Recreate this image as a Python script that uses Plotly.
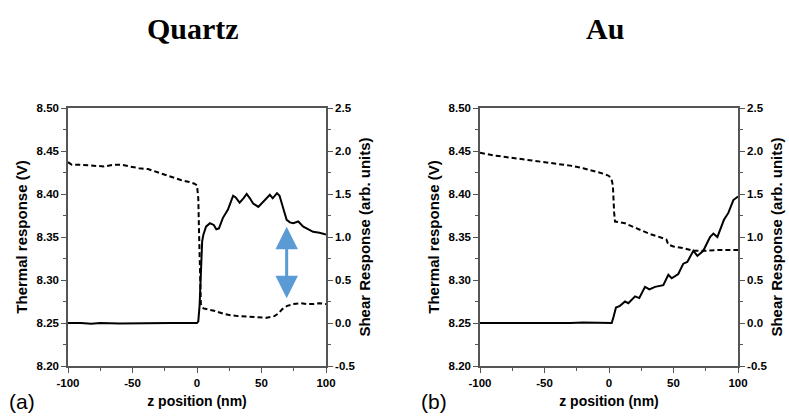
import plotly.graph_objects as go

# ---- Quartz: thermal response (V, left axis) and shear response (right axis)
qz_thermal_z = [-100, -97, -90, -80, -72, -65, -58, -52, -45, -38, -32, -25, -18, -12,
                -6, -2, 0, 1, 1.5, 2, 2.5, 3, 5, 8, 14, 20, 26, 32, 40, 48, 54, 60,
                63, 66, 70, 75, 80, 85, 90, 95, 100]
qz_thermal_v = [8.437, 8.434, 8.434, 8.433, 8.432, 8.434, 8.434, 8.432, 8.430, 8.429,
                8.426, 8.423, 8.419, 8.416, 8.414, 8.412, 8.410, 8.395, 8.36, 8.32,
                8.29, 8.272, 8.267, 8.266, 8.264, 8.261, 8.259, 8.258, 8.257, 8.256,
                8.256, 8.258, 8.261, 8.266, 8.270, 8.272, 8.273, 8.272, 8.272, 8.273,
                8.272]

qz_shear_z = [-100, -90, -82, -75, -60, -40, -20, 0, 1, 2, 3, 4, 5, 7, 10, 13, 15, 17,
              20, 22, 24, 26, 28, 30, 33, 36, 38.5, 41, 43.5, 47.5, 51.5, 54, 56.5, 58.7,
              62, 64, 65.6, 67.5, 69.5, 72, 74.6, 78.5, 82.4, 86, 90, 95, 100]
qz_shear = [0.0, 0.0, -0.01, 0.0, -0.005, 0.0, 0.0, 0.0, 0.02, 0.2, 0.6, 0.95, 1.03,
            1.12, 1.16, 1.14, 1.09, 1.10, 1.22, 1.27, 1.32, 1.40, 1.48, 1.46, 1.40, 1.45,
            1.50, 1.45, 1.39, 1.35, 1.41, 1.45, 1.49, 1.45, 1.51, 1.48, 1.41, 1.30, 1.20,
            1.17, 1.16, 1.18, 1.12, 1.09, 1.06, 1.05, 1.03]

# ---- Au
au_thermal_z = [-100, -90, -80, -70, -60, -50, -40, -30, -20, -10, -3, 0, 2, 3, 3.5, 4,
                4.7, 8, 12.4, 21.5, 31.8, 42.1, 44.5, 46, 50, 57.6, 65.4, 75, 85, 100]
au_thermal_v = [8.448, 8.445, 8.443, 8.441, 8.439, 8.437, 8.435, 8.433, 8.430, 8.426,
                8.423, 8.421, 8.417, 8.41, 8.39, 8.378, 8.368, 8.367, 8.366, 8.360,
                8.3535, 8.3485, 8.347, 8.341, 8.339, 8.337, 8.334, 8.334, 8.335, 8.335]

au_shear_z = [-100, -90, -80, -70, -60, -50, -40, -30, -20, -10, 0, 2.1, 3.5, 5.4, 8.5,
              12.4, 15, 20.2, 23.5, 27.9, 31.3, 35.7, 42.1, 46, 48.6, 53.7, 57.6, 60.7,
              65.4, 68.5, 73.1, 78.3, 80.9, 84, 89.1, 92.5, 96.4, 99.5, 100]
au_shear = [0.0, 0.0, -0.005, 0.0, -0.005, 0.0, 0.0, 0.0, 0.005, 0.0, 0.0, 0.0, 0.07,
            0.18, 0.20, 0.25, 0.23, 0.31, 0.29, 0.42, 0.39, 0.42, 0.44, 0.56, 0.52, 0.57,
            0.69, 0.71, 0.84, 0.78, 0.84, 1.00, 1.04, 1.00, 1.20, 1.28, 1.43, 1.47, 1.47]

panel_titles = ["Quartz", "Au"]
panel_tags = ["(a)", "(b)"]
x_title = "z position (nm)"
left_title = "Thermal response (V)"
right_title = "Shear Response (arb. units)"

x_ticks = [-100, -50, 0, 50, 100]
x_ticktext = ["-100", "-50", "0", "50", "100"]
v_ticks = [8.20, 8.25, 8.30, 8.35, 8.40, 8.45, 8.50]
v_ticktext = ["8.20", "8.25", "8.30", "8.35", "8.40", "8.45", "8.50"]
s_ticks = [-0.5, 0.0, 0.5, 1.0, 1.5, 2.0, 2.5]
s_ticktext = ["-0.5", "0.0", "0.5", "1.0", "1.5", "2.0", "2.5"]

W, H = 789, 417
AXIS_COLOR = "#555555"
SANS = "Liberation Sans, Arial, sans-serif"
SERIF = "Liberation Serif, Times New Roman, serif"

fig = go.Figure()

# panel layout in pixels (left, right) and shared vertical extent
panels_px = [(68, 326), (480, 738)]
top_px, bottom_px = 108, 366

data = [
    (qz_thermal_z, qz_thermal_v, qz_shear_z, qz_shear),
    (au_thermal_z, au_thermal_v, au_shear_z, au_shear),
]

for i, (tz, tv, sz, sv) in enumerate(data):
    xa = "x" if i == 0 else "x2"
    ya = "y" if i == 0 else "y3"
    yb = "y2" if i == 0 else "y4"
    fig.add_trace(go.Scatter(x=tz, y=tv, xaxis=xa, yaxis=ya, mode="lines",
                             line=dict(color="black", width=2, dash="5px,3px"),
                             showlegend=False))
    fig.add_trace(go.Scatter(x=sz, y=sv, xaxis=xa, yaxis=yb, mode="lines",
                             line=dict(color="black", width=2),
                             showlegend=False))

tick_font = dict(family=SANS, size=11.5, color="black", weight="bold")
x_title_font = dict(family=SANS, size=14, color="black", weight="bold")
y_title_font = dict(family=SANS, size=15, color="black", weight="bold")
ydom = [1 - bottom_px / H, 1 - top_px / H]

common_axis = dict(showline=True, linecolor=AXIS_COLOR, linewidth=1.5,
                   showgrid=False, zeroline=False, ticks="outside", ticklen=5,
                   tickwidth=1.2, tickcolor=AXIS_COLOR, tickfont=tick_font)

layout = {}
for i, (l, r) in enumerate(panels_px):
    xk = "xaxis" if i == 0 else "xaxis2"
    yk = "yaxis" if i == 0 else "yaxis3"
    y2k = "yaxis2" if i == 0 else "yaxis4"
    xid = "x" if i == 0 else "x2"
    yid = "y" if i == 0 else "y3"
    layout[xk] = dict(common_axis, domain=[l / W, r / W], anchor=yid,
                      range=[-100, 100], tickmode="array", tickvals=x_ticks,
                      ticktext=x_ticktext,
                      minor=dict(dtick=25, tick0=0, ticks="outside", ticklen=3,
                                 tickcolor=AXIS_COLOR),
                      mirror=True,
                      title=dict(text=x_title, font=x_title_font, standoff=9))
    layout[yk] = dict(common_axis, domain=ydom, anchor=xid, range=[8.20, 8.50],
                      tickmode="array", tickvals=v_ticks, ticktext=v_ticktext,
                      minor=dict(dtick=0.025, tick0=8.2, ticks="outside", ticklen=3,
                                 tickcolor=AXIS_COLOR),
                      title=dict(text=left_title, font=y_title_font, standoff=5))
    layout[y2k] = dict(common_axis, domain=ydom, anchor=xid, overlaying=yid,
                       side="right", range=[-0.5, 2.5],
                       tickmode="array", tickvals=s_ticks, ticktext=s_ticktext,
                       minor=dict(dtick=0.25, tick0=0, ticks="outside", ticklen=3,
                                  tickcolor=AXIS_COLOR),
                       title=dict(text=right_title, font=y_title_font, standoff=5))

annotations = []
for i, (l, r) in enumerate(panels_px):
    annotations.append(dict(text=panel_titles[i], x=(l + r) / 2 / W - 0.005,
                            y=1 - 28 / H, xref="paper", yref="paper",
                            showarrow=False, xanchor="center", yanchor="middle",
                            font=dict(family=SERIF, size=30, color="black",
                                      weight="bold")))
    annotations.append(dict(text=panel_tags[i], x=(l - 46) / W, y=1 - 401 / H,
                            xref="paper", yref="paper", showarrow=False,
                            xanchor="center", yanchor="middle",
                            font=dict(family=SANS, size=21, color="black")))

# double-headed arrow marking the contrast in the quartz panel
annotations.append(dict(x=69.5, y=1.12, ax=69.5, ay=0.27, xref="x", yref="y2",
                        axref="x", ayref="y2", text="", showarrow=True,
                        arrowside="end+start", arrowhead=2, startarrowhead=2,
                        arrowsize=1.5, startarrowsize=1.5, arrowwidth=3,
                        arrowcolor="#5B9BD5", standoff=0, startstandoff=0))

fig.update_layout(**layout)
fig.update_layout(annotations=annotations, width=W, height=H,
                  margin=dict(l=0, r=0, t=0, b=0, autoexpand=False),
                  paper_bgcolor="white", plot_bgcolor="white")

fig.write_html("out.html")
